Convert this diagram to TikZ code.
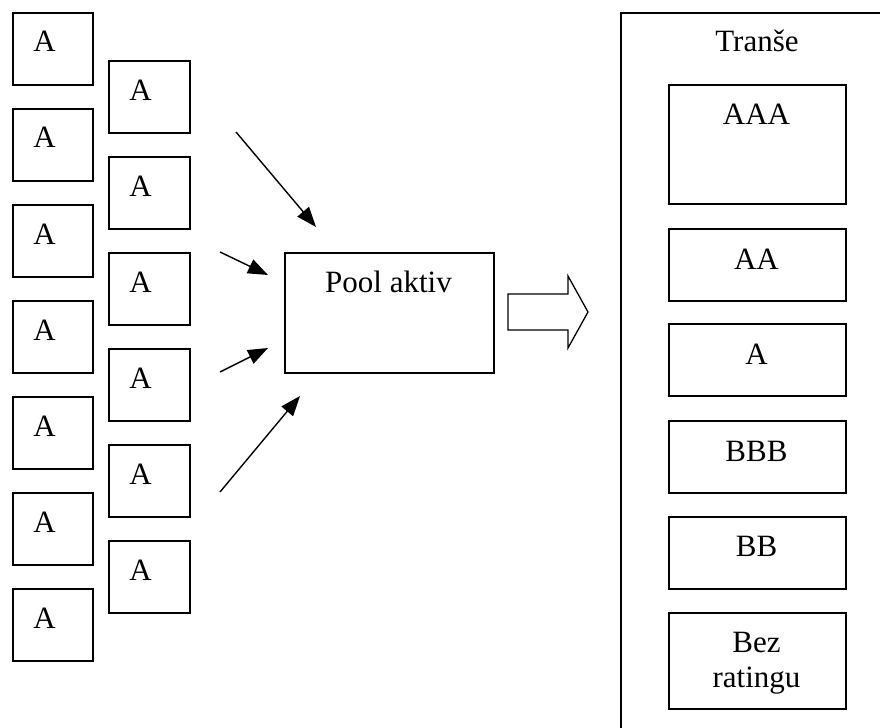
\documentclass[tikz,border=0pt]{standalone}
\usepackage{fontspec}
\setmainfont{Liberation Serif}
\usetikzlibrary{arrows.meta,calc}
\begin{document}
\begin{tikzpicture}[x=0.5pt,y=-0.5pt,
  font=\fontsize{15.5}{17.5}\selectfont,
  box/.style={draw, line width=0.8pt, rectangle, inner sep=0pt, anchor=north west},
  smallbox/.style={box, minimum width=40pt, minimum height=36pt},
  tbox/.style={box, minimum width=88.5pt, minimum height=36pt},
  lbl/.style={inner sep=0pt, anchor=base},
  lblw/.style={inner sep=0pt, anchor=base west},
  conn/.style={line width=0.7pt, -{Triangle[length=10pt,width=7.5pt]}},
  blockarrow/.style={draw, line width=0.65pt, line join=miter}]
\useasboundingbox (0,0) rectangle (880,728);

% left column
\foreach \i/\t in {1/12,2/108,3/204,4/300,5/396,6/492,7/588}{
  \node[smallbox] (l\i) at (12,\t) {};
  \node[lblw] (lt\i) at ($(l\i.north west)+(21,40)$) {A};
}
% second column
\foreach \i/\t in {1/60,2/156,3/252,4/348,5/444,6/540}{
  \node[smallbox, minimum width=40.5pt] (r\i) at (108,\t) {};
  \node[lblw] (rt\i) at ($(r\i.north west)+(21,40)$) {A};
}

% pool
\node[box, minimum width=104.5pt, minimum height=60pt] (pool) at (284,252) {};
\node[lbl] (poolt) at (388.5,292) {Pool aktiv};

% arrows into pool
\coordinate (s1) at (236,132); \coordinate (e1) at (316,227);
\coordinate (s2) at (220,252); \coordinate (e2) at (268,275);
\coordinate (s3) at (220,372); \coordinate (e3) at (268,348);
\coordinate (s4) at (220,492); \coordinate (e4) at (300,396);
\draw[conn] (s1) -- (e1);
\draw[conn] (s2) -- (e2);
\draw[conn] (s3) -- (e3);
\draw[conn] (s4) -- (e4);

% block arrow
\draw[blockarrow] (508,294) -- (568,294) -- (568,276) -- (588,312) -- (568,348) -- (568,330) -- (508,330) -- cycle;

% tranche container
\begin{scope}
\clip (0,0) rectangle (880,728);
\node[box, minimum width=150pt, minimum height=380pt] (tr) at (620,12) {};
\end{scope}
\node[lbl] (trt) at (757,52) {Tranše};

\node[tbox, minimum height=59.5pt] (aaa) at (668,84) {};
\node[lbl] (aaat) at (756.5,125) {AAA};
\node[tbox] (aa) at (668,228) {};
\node[lbl] (aat) at (756.5,269) {AA};
\node[tbox] (a) at (668,323) {};
\node[lbl] (at) at (756.5,364) {A};
\node[tbox] (bbb) at (668,420) {};
\node[lbl] (bbbt) at (756.5,461) {BBB};
\node[tbox] (bb) at (668,516) {};
\node[lbl] (bbt) at (756.5,556) {BB};
\node[tbox, minimum height=48pt] (nr) at (668,612) {};
\node[lbl] (nrt1) at (756.5,652) {Bez};
\node[lbl] (nrt2) at (756.5,687) {ratingu};
\end{tikzpicture}
\end{document}
